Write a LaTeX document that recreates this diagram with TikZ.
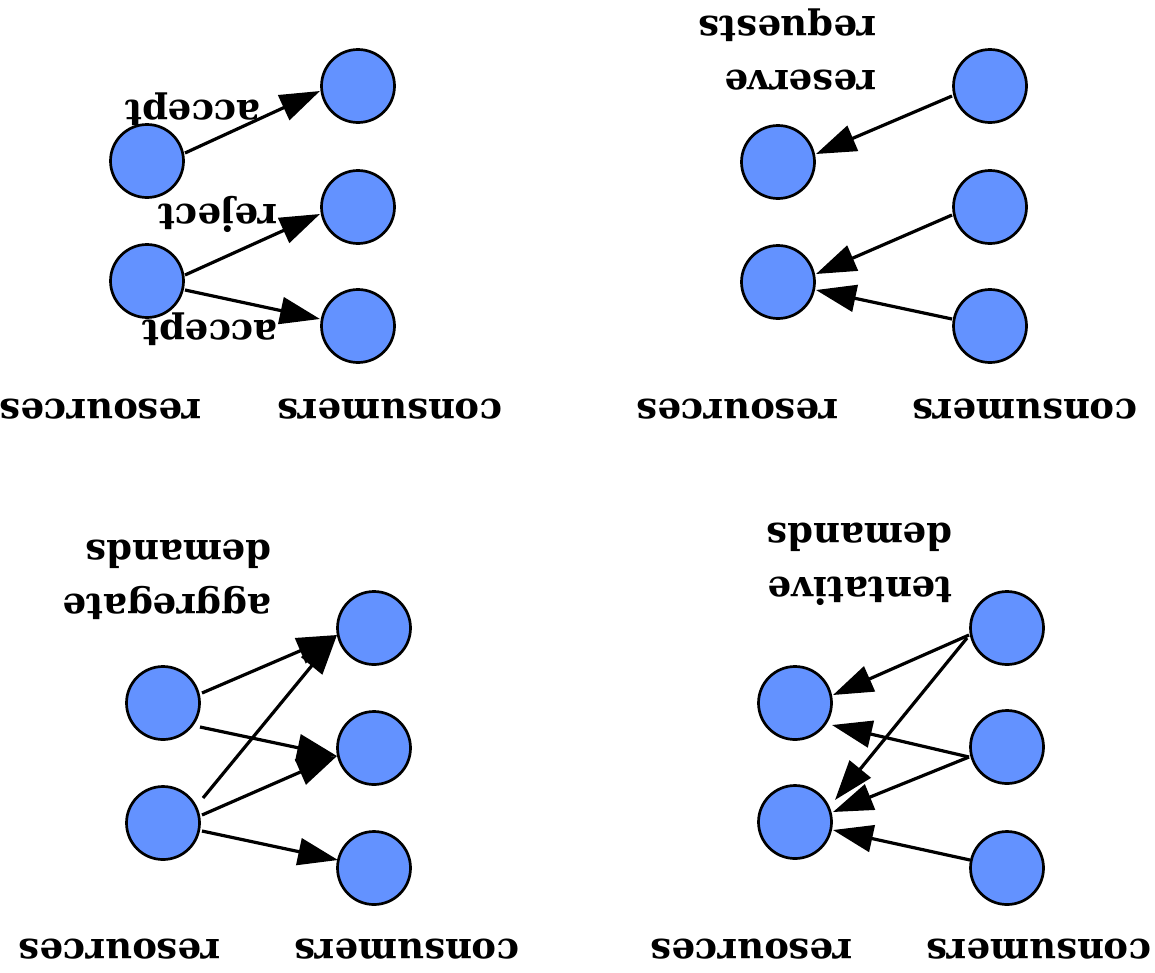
\documentclass[tikz,border=0pt]{standalone}
\usepackage{fontspec}
\setmainfont{DejaVu Serif}
\usetikzlibrary{arrows.meta,calc}
\definecolor{nodeblue}{RGB}{99,146,255}
\begin{document}
\begin{tikzpicture}[x=1pt,y=-1pt,
  dot/.style={circle,draw=black,line width=2.7pt,fill=nodeblue,minimum size=73pt,inner sep=0pt},
  conn/.style={line width=3.2pt,-{Triangle[length=40pt,width=27pt]}},
  lbl/.style={font=\fontsize{37}{54}\selectfont\bfseries,rotate=180,inner sep=0pt}]
\useasboundingbox (0,0) rectangle (1155,972);
% panel A
\node[dot] (a1) at (147,161) {};
\node[dot] (a2) at (147,281) {};
\node[dot] (ac1) at (358,86) {};
\node[dot] (ac2) at (358,207) {};
\node[dot] (ac3) at (358,326) {};
\draw[conn] ($(a1)+(38,-8)$) -- ($(ac1)+(-38,5)$);
\draw[conn] ($(a2)+(38,-6)$) -- ($(ac2)+(-38,7)$);
\draw[conn] ($(a2)+(38,9)$) -- ($(ac3)+(-38,-7)$);
\node[lbl,anchor=base] (la1) at (193,100) {accept};
\node[lbl,anchor=base] (la2) at (218,204) {reject};
\node[lbl,anchor=base] (la3) at (210,320) {accept};
\node[lbl,anchor=base] (ra) at (101,399) {resources};
\node[lbl,anchor=base] (ca) at (390,399) {consumers};
% panel B
\node[dot] (b1) at (778,162) {};
\node[dot] (b2) at (778,282) {};
\node[dot] (bc1) at (990,86) {};
\node[dot] (bc2) at (990,207) {};
\node[dot] (bc3) at (990,326) {};
\draw[conn] ($(bc1)+(-38,10)$) -- ($(b1)+(38,-8)$);
\draw[conn] ($(bc2)+(-38,8)$) -- ($(b2)+(38,-8)$);
\draw[conn] ($(bc3)+(-38,-7)$) -- ($(b2)+(38,8)$);
\node[lbl,align=left,anchor=base west] (lb) at (877,16) {reserve\\requests};
\node[lbl,anchor=base] (rb) at (738,399) {resources};
\node[lbl,anchor=base] (cb) at (1025,399) {consumers};
% panel C
\node[dot] (c1) at (163,703) {};
\node[dot] (c2) at (163,823) {};
\node[dot] (cc1) at (374,628) {};
\node[dot] (cc2) at (374,748) {};
\node[dot] (cc3) at (374,868) {};
\draw[conn] ($(c1)+(39,-10)$) -- ($(cc1)+(-37,7)$);
\draw[conn] ($(c1)+(37,24)$) -- ($(cc2)+(-37,8)$);
\draw[conn] ($(c2)+(40,-25)$) -- ($(cc1)+(-37,7)$);
\draw[conn] ($(c2)+(39,-8)$) -- ($(cc2)+(-37,8)$);
\draw[conn] ($(c2)+(39,8)$) -- ($(cc3)+(-36,-8)$);
\node[lbl,align=left,anchor=base west] (lc) at (272,540) {aggregate\\demands};
\node[lbl,anchor=base] (rc) at (120,939) {resources};
\node[lbl,anchor=base] (cc) at (407,939) {consumers};
% panel D
\node[dot] (d1) at (795,703) {};
\node[dot] (d2) at (795,822) {};
\node[dot] (dc1) at (1007,628) {};
\node[dot] (dc2) at (1007,747) {};
\node[dot] (dc3) at (1007,868) {};
\draw[conn] ($(dc1)+(-38,7)$) -- ($(d1)+(38,-8)$);
\draw[conn] ($(dc1)+(-40,10)$) -- ($(d2)+(40,-22)$);
\draw[conn] ($(dc2)+(-38,10)$) -- ($(d1)+(37,22)$);
\draw[conn] ($(dc2)+(-38,10)$) -- ($(d2)+(38,-10)$);
\draw[conn] ($(dc3)+(-37,-8)$) -- ($(d2)+(38,8)$);
\node[lbl,align=left,anchor=base west] (ld) at (953,523) {tentative\\demands};
\node[lbl,anchor=base] (rd) at (752,939) {resources};
\node[lbl,anchor=base] (cd) at (1039,939) {consumers};
\end{tikzpicture}
\end{document}
